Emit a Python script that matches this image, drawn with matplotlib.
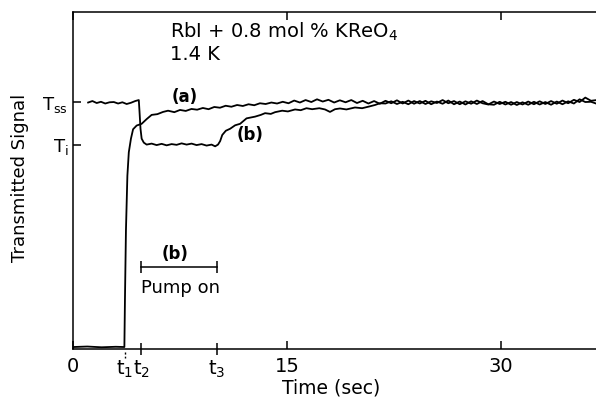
#!/usr/bin/env python3
"""
Transmitted signal vs time, RbI + 0.8 mol % KReO4 at 1.4 K.
Trace (a): signal switched on at t1. Trace (b): pump on between t2 and t3.
"""

import matplotlib
matplotlib.use("Agg")
import matplotlib.pyplot as plt
import matplotlib.transforms as mtransforms

# =============================================================================
# 1. DATA (signal in units where T_ss ~ 100)
# =============================================================================

# marked times (sec)
t1 = 3.64
t2 = 4.77
t3 = 10.09

# signal levels
T_ss = 99.7
T_i = 82.5

# trace (a)
time_a = [0.0, 1.0, 2.0, 3.0, 3.6, 3.64, 3.71, 3.81, 3.91, 4.06, 4.21, 4.46,
          4.81, 5.16, 5.51, 5.91, 6.31, 6.66,
          7.1, 7.5, 7.9, 8.3, 8.7, 9.1, 9.5, 9.9, 10.3, 10.7,
          11.1, 11.5, 11.9, 12.3, 12.7, 13.1, 13.5, 13.9, 14.3, 14.7,
          15.1, 15.5, 15.9, 16.3, 16.7, 17.1, 17.5, 17.9, 18.3, 18.7,
          19.1, 19.5, 19.9, 20.3, 20.7, 21.1, 21.5, 21.9, 22.3, 22.7,
          23.1, 23.5, 23.9, 24.3, 24.7, 25.1, 25.5, 25.9, 26.3, 26.7,
          27.1, 27.5, 27.9, 28.3, 28.7, 29.1, 29.5, 29.9, 30.3, 30.7,
          31.1, 31.5, 31.9, 32.3, 32.7, 33.1, 33.5, 33.9, 34.3, 34.7,
          35.1, 35.5, 35.9, 36.3, 36.7]
signal_a = [0.8, 1.0, 0.7, 0.9, 0.8, 20.0, 48.0, 70.0, 79.5, 85.0, 88.8, 90.3,
            91.0, 92.9, 94.6, 94.9, 95.8, 96.3,
            95.7, 96.6, 96.2, 97.0, 96.7, 97.4, 96.9, 97.8, 97.5, 98.3,
            97.9, 98.6, 98.2, 98.9, 98.5, 99.3, 99.0, 99.6, 99.2, 99.9,
            99.3, 100.4, 99.6, 100.6, 99.8, 100.9, 100.0, 100.7, 99.6, 100.5,
            99.7, 100.6, 99.4, 100.3, 99.2, 100.2, 99.1, 100.3, 99.3, 100.5,
            99.2, 100.4, 99.1, 100.2, 99.0, 100.1, 99.4, 100.6, 99.3, 100.2,
            98.9, 100.1, 99.1, 100.4, 99.3, 98.8, 100.0, 99.0, 99.9, 98.7,
            99.8, 98.8, 100.0, 98.9, 100.1, 99.0, 100.2, 99.1, 100.4, 99.3,
            100.7, 99.8, 101.6, 100.3, 100.6]

# trace (b)
time_b = [1.06, 1.36, 1.66, 1.96, 2.26, 2.56, 2.86, 3.16, 3.46, 3.76, 4.06,
          4.36, 4.61, 4.66, 4.73, 4.81, 4.96, 5.16, 5.51, 5.86, 6.21, 6.56,
          6.91, 7.26, 7.61, 7.96, 8.31, 8.66, 9.01, 9.36, 9.71, 9.96, 10.16,
          10.31, 10.46, 10.71, 11.01, 11.36, 11.71, 12.16, 12.76, 13.16,
          13.46, 13.86, 14.16, 14.66, 15.06, 15.56, 15.96, 16.36, 16.76,
          17.26, 17.66, 18.01, 18.36, 18.71, 19.16, 19.76, 20.26, 20.76,
          21.16, 21.51,
          21.9, 22.3, 22.7, 23.1, 23.5, 23.9, 24.3, 24.7, 25.1, 25.5,
          25.9, 26.3, 26.7, 27.1, 27.5, 27.9, 28.3, 28.7, 29.1, 29.5,
          29.9, 30.3, 30.7, 31.1, 31.5, 31.9, 32.3, 32.7, 33.1, 33.5,
          33.9, 34.3, 34.7, 35.1, 35.5, 35.9, 36.3, 36.7]
signal_b = [99.6, 100.2, 99.4, 99.9, 99.2, 99.7, 99.8, 99.2, 99.7, 99.0, 99.5,
            100.2, 100.6, 96.0, 89.0, 85.0, 83.4, 82.6, 83.0, 82.4, 82.9, 82.3,
            82.8, 82.5, 83.1, 82.6, 83.0, 82.4, 82.8, 82.2, 82.6, 81.9, 82.6,
            84.0, 86.5, 88.2, 89.0, 90.4, 91.0, 93.2, 93.9, 94.6,
            95.3, 95.0, 95.7, 96.3, 96.0, 96.8, 96.5, 97.3, 96.9,
            97.3, 96.8, 95.8, 96.9, 97.2, 96.8, 97.6, 97.3, 98.0,
            98.6, 99.3,
            99.2, 100.1, 99.0, 99.9, 98.9, 100.2, 99.2, 100.3, 98.9, 100.0,
            99.1, 100.4, 98.9, 100.0, 98.8, 100.1, 99.0, 100.2, 98.9, 98.7,
            99.9, 98.8, 99.8, 98.6, 99.7, 98.7, 99.9, 98.8, 99.8, 98.7,
            100.0, 98.9, 100.1, 99.2, 100.9, 99.8, 99.9, 99.1]

# =============================================================================
# 2. FIGURE
# =============================================================================

plt.rcParams['font.family'] = ['DejaVu Sans']
plt.rcParams['mathtext.default'] = 'regular'

fig = plt.figure(figsize=(5.96, 3.98), dpi=100)
ax = fig.add_axes([0.1225, 0.1231, 0.8775, 0.8475])

ax.plot(time_a, signal_a, color='black', linewidth=1.3)
ax.plot(time_b, signal_b, color='black', linewidth=1.3)

ax.set_xlim(0, 36.65)
ax.set_ylim(0, 136.3)

# spines
for side in ['left', 'top', 'bottom']:
    ax.spines[side].set_linewidth(1.1)
ax.spines['right'].set_visible(False)

# x ticks: numbers (major) and marked times (minor)
ax.set_xticks([0, 15, 30])
ax.set_xticklabels(['0', '15', '30'])
ax.set_xticks([t1, t2, t3], minor=True)
ax.set_xticklabels([r'$t_1$', r'$t_2$', r'$t_3$'], minor=True)
ax.tick_params(axis='x', which='major', direction='in', length=6, width=1.1,
               top=True, labelsize=14, pad=5.5)
ax.tick_params(axis='x', which='minor', direction='inout', length=8, width=1.1,
               top=False, labelsize=14, pad=2.8)
ax.xaxis.get_minor_ticks()[0].tick1line.set_visible(False)

# small dashed mark under t1
trans = mtransforms.blended_transform_factory(ax.transData, ax.transAxes)
ax.plot([t1, t1], [-0.008, -0.027], color='black', linewidth=1.0,
        linestyle=(0, (1.5, 1.5)), transform=trans, clip_on=False)

# y ticks: T_ss and T_i
ax.set_yticks([T_ss, T_i])
ax.set_yticklabels([r'$T_{ss}$', r'$T_i$'])
ax.tick_params(axis='y', direction='in', length=6, width=1.1,
               right=False, labelsize=13, pad=3.5)

# axis labels
ax.set_xlabel('Time (sec)', fontsize=13.5)
ax.xaxis.set_label_coords(0.494, -0.088)
ax.set_ylabel('Transmitted Signal', fontsize=13)
ax.yaxis.set_label_coords(-0.084, 0.507)

# =============================================================================
# 3. ANNOTATIONS
# =============================================================================

ax.text(6.8, 125.8, 'RbI + 0.8 mol % KReO$_4$', fontsize=14, va='baseline')
ax.text(6.8, 116.9, '1.4 K', fontsize=14, va='baseline')

ax.text(7.8, 101.8, '(a)', fontsize=12, fontweight='bold', ha='center', va='center')
ax.text(12.44, 86.3, '(b)', fontsize=12, fontweight='bold', ha='center', va='center')

# pump-on interval for trace (b)
ax.plot([t2, t3], [33.2, 33.2], color='black', linewidth=1.1,
        marker='|', markersize=8, markeredgewidth=1.1)
ax.text(7.18, 38.5, '(b)', fontsize=12, fontweight='bold', ha='center', va='center')
ax.text(7.53, 22.7, 'Pump on', fontsize=13, ha='center', va='baseline')

fig.savefig('out.png', dpi=100)
